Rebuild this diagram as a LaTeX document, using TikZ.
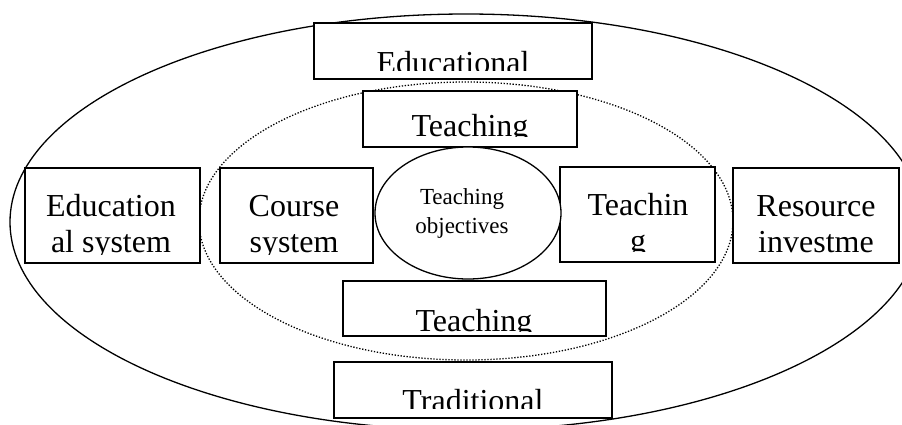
\documentclass[tikz,border=0pt]{standalone}
\usepackage{fontspec}
\setmainfont{Liberation Serif}
\usepackage{tikz}
\usetikzlibrary{shapes,fit}

\newcommand{\bigtxt}{\fontsize{32}{36}\selectfont}
\newcommand{\smalltxt}{\fontsize{23}{29}\selectfont}

\begin{document}
\begin{tikzpicture}[x=1pt,y=-1pt,
    box/.style={draw,fill=white,line width=1.3pt,inner sep=0pt},
    lbl/.style={font=\bigtxt,inner sep=0pt}]
    \useasboundingbox (0,0) rectangle (902,424);
    % the two rings
    \node[draw,ellipse,line width=1.3pt,minimum width=912pt,minimum height=416pt] (outer) at (466,222) {};
    \node[draw,ellipse,line width=1.3pt,dash pattern=on 1.3pt off 1.7pt,minimum width=534pt,minimum height=278pt] (inner) at (466,221) {};
    % boxes
    \node[box,fit={(314,23) (592,79)}] (educ) {};
    \node[box,fit={(363,91) (577,147)}] (teachup) {};
    \node[box,fit={(25,168) (200,263)}] (edsys) {};
    \node[box,fit={(220,168) (373,263)}] (course) {};
    \node[box,fit={(560,167) (715,262)}] (teachmid) {};
    \node[box,fit={(733,168) (899,263)}] (resource) {};
    \node[box,fit={(343,281) (606,336)}] (teachlow) {};
    \node[box,fit={(334,362) (612,418)}] (trad) {};
    \node[draw,ellipse,fill=white,line width=1.3pt,minimum width=186pt,minimum height=132pt,
        inner sep=0pt] (obj) at (468,213) {};
    \node[font=\smalltxt,align=center,inner sep=0pt] (objt) at (462,212.7) {\strut Teaching\\\strut objectives};
    % texts are cut at the bottom, as in the original
    \begin{scope}
        \clip (314,23) rectangle (592,70);
        \node[lbl,anchor=base] (educt) at (453,73) {Educational};
    \end{scope}
    \begin{scope}
        \clip (363,91) rectangle (577,136);
        \node[lbl,anchor=base] (teachupt) at (470,136) {Teaching};
    \end{scope}
    \begin{scope}
        \clip (25,168) rectangle (200,254);
        \node[lbl,align=center] (edsyst) at (111,227.3) {\strut Education\\\strut al system};
    \end{scope}
    \begin{scope}
        \clip (220,168) rectangle (373,254);
        \node[lbl,align=center] (courset) at (294,227.3) {\strut Course\\\strut system};
    \end{scope}
    \begin{scope}
        \clip (560,167) rectangle (715,251);
        \node[lbl,align=center] (teachmidt) at (638,226.3) {\strut Teachin\\\strut g};
    \end{scope}
    \begin{scope}
        \clip (733,168) rectangle (899,254);
        \node[lbl,align=center] (resourcet) at (816,227.3) {\strut Resource\\\strut investme};
    \end{scope}
    \begin{scope}
        \clip (343,281) rectangle (606,331);
        \node[lbl,anchor=base] (teachlowt) at (474,331) {Teaching};
    \end{scope}
    \begin{scope}
        \clip (334,362) rectangle (612,408);
        \node[lbl,anchor=base] (tradt) at (473,411) {Traditional};
    \end{scope}
\end{tikzpicture}
\end{document}
